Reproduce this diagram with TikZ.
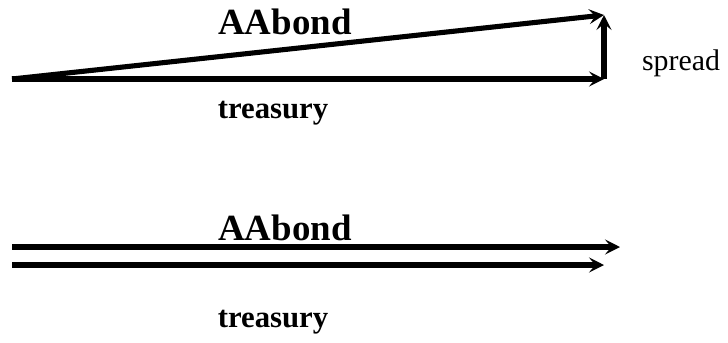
\documentclass[tikz,border=0pt]{standalone}
\usepackage{fontspec}
\setmainfont{Liberation Serif}
\usetikzlibrary{arrows.meta,positioning}

\begin{document}
\begin{tikzpicture}[x=0.02cm, y=-0.02cm, every node/.style={inner sep=0pt},
  vec/.style={-{Stealth[length=8.5pt,width=8.5pt,inset=3.5pt]}, line width=2.9pt},
  big/.style={font=\fontsize{21}{24}\selectfont\bfseries},
  small/.style={font=\fontsize{17.5}{20}\selectfont\bfseries}]
  \useasboundingbox (0,0) rectangle (728,342);
  % upper case: bond yield = treasury + spread
  \coordinate (o1) at (12,79);
  \coordinate (t1) at (604,79);
  \coordinate (a1) at (604,15);
  \draw[vec] (o1) -- (t1);
  \draw[vec] (o1) -- (a1);
  \draw[vec] (t1) -- (a1);
  \node[big] (aab1) at (285,22) {AAbond};
  \node[small] (tre1) at (273,113) {treasury};
  \node[font=\fontsize{17}{20}\selectfont] (spr) at (681,63) {spread};
  % lower case: the two side by side
  \coordinate (o2) at (12,247);
  \coordinate (a2) at (620,247);
  \coordinate (o3) at (12,265);
  \coordinate (t2) at (604,265);
  \draw[vec] (o2) -- (a2);
  \draw[vec] (o3) -- (t2);
  \node[big] (aab2) at (285,228) {AAbond};
  \node[small] (tre2) at (273,322) {treasury};
\end{tikzpicture}
\end{document}
